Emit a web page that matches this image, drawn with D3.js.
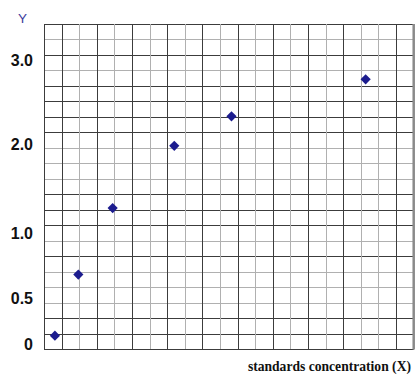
<!DOCTYPE html>
<html lang="en">
<head>
    <meta charset="UTF-8">
    <title>Standards</title>
    <script src="https://d3js.org/d3.v7.min.js"></script>
    <style>
        body { margin: 0; background: #fff; }
    </style>
</head>
<body>
<script>
    var width = 419;
    var height = 377;

    // standards (x in grid units, y in absorbance-like units)
    var conc = [0.62, 1.95, 3.9, 7.4, 10.65, 18.27];
    var yvals = [0.09, 0.68, 1.28, 1.98, 2.33, 2.77];

    var yTicks = [0, 0.5, 1, 2, 3];
    var yTickLabels = ["0", "0.5", "1.0", "2.0", "3.0"];

    // the paper's grid is 21 x 21 squares
    var n_cols = 21;
    var n_rows = 21;
    var darkCols = [0, 1, 3, 5, 7, 9, 11, 13, 15, 17, 20];
    var darkRows = [0, 1, 2, 6, 8, 9, 10, 14, 15, 16, 17, 19, 21];

    var svg = d3.select("body").append("svg")
        .attr("width", width)
        .attr("height", height)

    var gx = d3.scaleLinear().domain([0, n_cols]).range([44, 413.7])
    var gy = d3.scaleLinear().domain([0, n_rows]).range([349, 24])

    // label positions on the sheet are not evenly spaced
    var y_scale = d3.scaleLinear()
        .domain(yTicks)
        .range([344, 298, 233, 144, 60])

    var grid = svg.append("g")

    d3.range(n_rows + 1).forEach(function (i) {
        var dark = darkRows.indexOf(i) >= 0
        grid.append("line")
            .attr("x1", gx(0)).attr("x2", gx(n_cols))
            .attr("y1", Math.round(gy(i)) + 0.5).attr("y2", Math.round(gy(i)) + 0.5)
            .attr("stroke", dark ? "#3c3c3c" : "#b0b0b0")
            .attr("stroke-width", 1)
    })

    d3.range(n_cols).forEach(function (i) {
        var dark = darkCols.indexOf(i) >= 0
        grid.append("line")
            .attr("x1", Math.round(gx(i)) + 0.5).attr("x2", Math.round(gx(i)) + 0.5)
            .attr("y1", gy(0)).attr("y2", gy(n_rows))
            .attr("stroke", dark ? "#3c3c3c" : "#b0b0b0")
            .attr("stroke-width", 1)
    })

    // right edge of the sheet
    grid.append("line")
        .attr("x1", gx(n_cols)).attr("x2", gx(n_cols))
        .attr("y1", gy(0) + 0.5).attr("y2", gy(n_rows))
        .attr("stroke", "#8a8a8a")
        .attr("stroke-width", 2.5)

    // y labels
    svg.append("g").selectAll("text")
        .data(yTicks)
        .join("text")
        .attr("x", 33)
        .attr("y", function (d) { return y_scale(d) })
        .attr("dy", "0.36em")
        .attr("text-anchor", "end")
        .attr("font-family", "Liberation Sans, Arial, sans-serif")
        .attr("font-weight", "bold")
        .attr("font-size", "16px")
        .attr("fill", "#111")
        .text(function (d, i) { return yTickLabels[i] })

    svg.append("text")
        .attr("x", 22.5)
        .attr("y", 23)
        .attr("text-anchor", "middle")
        .attr("font-family", "Liberation Sans, Arial, sans-serif")
        .attr("font-size", "13.5px")
        .attr("fill", "#3c3c9c")
        .text("Y")

    svg.append("text")
        .attr("x", 411)
        .attr("y", 370.5)
        .attr("text-anchor", "end")
        .attr("font-family", "Liberation Serif, Times New Roman, serif")
        .attr("font-weight", "bold")
        .attr("font-size", "13.6px")
        .attr("fill", "#111")
        .text("standards concentration (X)")

    // points
    var diamond = d3.symbol().type(d3.symbolSquare).size(52)
    svg.append("g").selectAll("path")
        .data(conc)
        .join("path")
        .attr("d", diamond)
        .attr("transform", function (d, i) {
            return "translate(" + gx(d) + "," + y_scale(yvals[i]) + ") rotate(45)"
        })
        .attr("fill", "#1c1c8e")
</script>
</body>
</html>
